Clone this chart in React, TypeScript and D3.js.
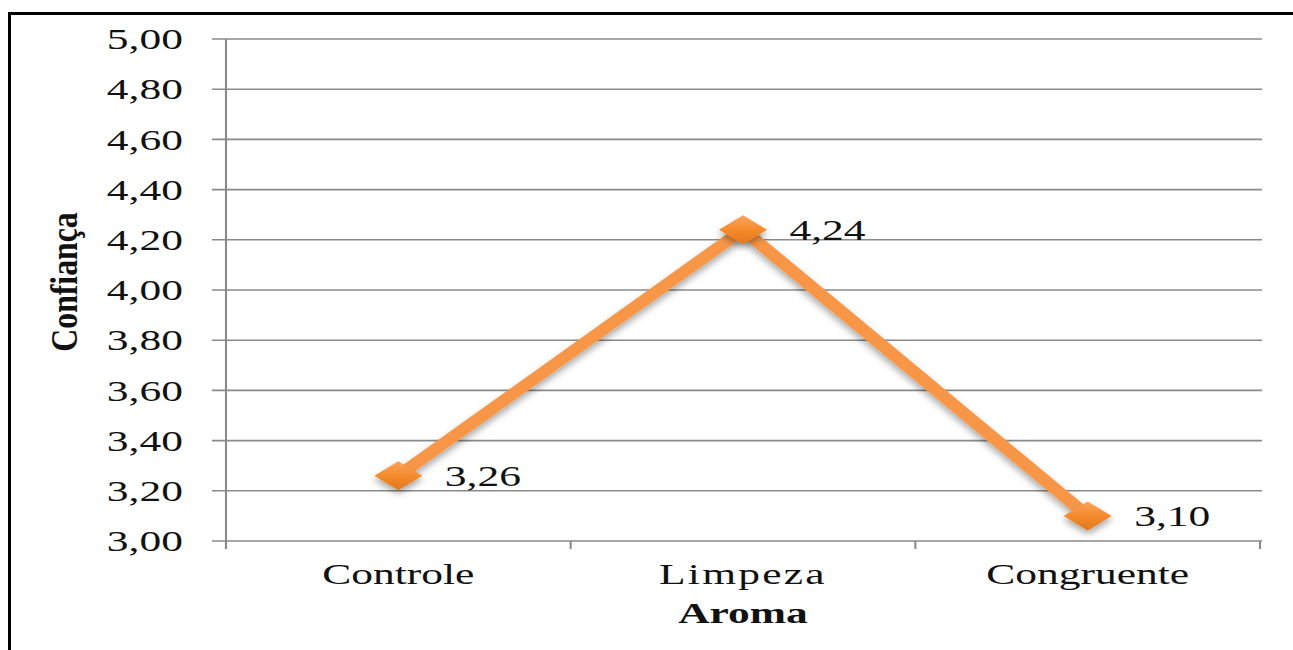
import React from 'react';
import * as d3 from 'd3';

// Data
const categories: string[] = ['Controle', 'Limpeza', 'Congruente'];
const values: number[] = [3.26, 4.24, 3.10];
const yTicks: number[] = [3.0, 3.2, 3.4, 3.6, 3.8, 4.0, 4.2, 4.4, 4.6, 4.8, 5.0];
const xTitle = 'Aroma';
const yTitle = 'Confiança';

const W = 1293;
const H = 650;
const SX = 1.5; // the whole picture is stretched sideways

const locale = d3.formatLocale({ decimal: ',', thousands: '.', grouping: [3], currency: ['', ''] });
const fmt = locale.format('.2f');

function App() {
    const left = 226 / SX;
    const right = 1260 / SX;
    const top = 39;
    const bottom = 541;

    const x = d3.scaleBand<string>().domain(categories).range([left, right]).paddingInner(0).paddingOuter(0);
    const y = d3.scaleLinear().domain([3, 5]).range([bottom, top]);

    const cx = (c: string) => (x(c) ?? 0) + x.bandwidth() / 2;
    const pts = categories.map((c, i) => [cx(c), y(values[i])] as [number, number]);
    const line = d3.line<[number, number]>().x((d) => d[0]).y((d) => d[1]);
    const boundaries = [...categories.map((c) => x(c) ?? 0), right];
    const diamond = 'M0,-14.5L16,0L0,14.5L-16,0Z';

    return (
        <svg width={W} height={H} style={{ position: 'fixed', top: 0, left: 0, background: '#fff' }}>
            <defs>
                <linearGradient id="mk" x1="0" y1="0" x2="0" y2="1">
                    <stop offset="0" stopColor="#fba45c" />
                    <stop offset="0.5" stopColor="#f58a2c" />
                    <stop offset="1" stopColor="#e2781e" />
                </linearGradient>
                <filter id="sh" x="-50%" y="-50%" width="200%" height="200%">
                    <feGaussianBlur in="SourceAlpha" stdDeviation="3" />
                    <feOffset dx="0" dy="4" result="b" />
                    <feComponentTransfer><feFuncA type="linear" slope="0.35" /></feComponentTransfer>
                    <feMerge><feMergeNode /><feMergeNode in="SourceGraphic" /></feMerge>
                </filter>
            </defs>
            <rect x={9.5} y={13.5} width={W + 20} height={H + 20} fill="none" stroke="#000" strokeWidth={3} />
            <g transform={`scale(${SX},1)`} fontFamily="'Liberation Serif', 'Times New Roman', serif" fill="#111">
                {/* grid + y ticks */}
                {yTicks.map((t) => (
                    <g key={t}>
                        <line x1={212 / SX} x2={1262 / SX} y1={y(t)} y2={y(t)} stroke="#8a8a8a" strokeWidth={1.6} />
                        <text x={left - 28.7} y={y(t)} dy="0.35em" textAnchor="end" fontSize={29}>{fmt(t)}</text>
                    </g>
                ))}
                <line x1={left} x2={left} y1={top} y2={bottom + 8} stroke="#8a8a8a" strokeWidth={1.4} />
                {boundaries.map((b, i) => (
                    <line key={i} x1={b} x2={b} y1={bottom} y2={bottom + 8} stroke="#8a8a8a" strokeWidth={1.4} />
                ))}
                {categories.map((c) => (
                    <text key={c} x={cx(c)} y={584} textAnchor="middle" fontSize={29} letterSpacing={c === 'Limpeza' ? 1.5 : 0}>{c}</text>
                ))}
                <text x={(left + right) / 2} y={623} textAnchor="middle" fontSize={29} fontWeight="bold">{xTitle}</text>

                {/* series */}
                <path d={line(pts) ?? ''} fill="none" stroke="#f79646" strokeWidth={10} strokeLinejoin="miter" filter="url(#sh)" />
                {pts.map((p, i) => (
                    <path key={i} d={diamond} transform={`translate(${p[0]},${p[1]})`} fill="url(#mk)" filter="url(#sh)" />
                ))}
                {pts.map((p, i) => (
                    <text key={'l' + i} x={p[0] + 31} y={p[1]} dy="0.35em" fontSize={29}>{fmt(values[i])}</text>
                ))}
            </g>
            <text transform="translate(77,282) rotate(-90) scale(1.27,1.5)" textAnchor="middle" fontSize={25} fontWeight="bold"
                fontFamily="'Liberation Serif', 'Times New Roman', serif" fill="#111">{yTitle}</text>
        </svg>
    );
}

export default App;
